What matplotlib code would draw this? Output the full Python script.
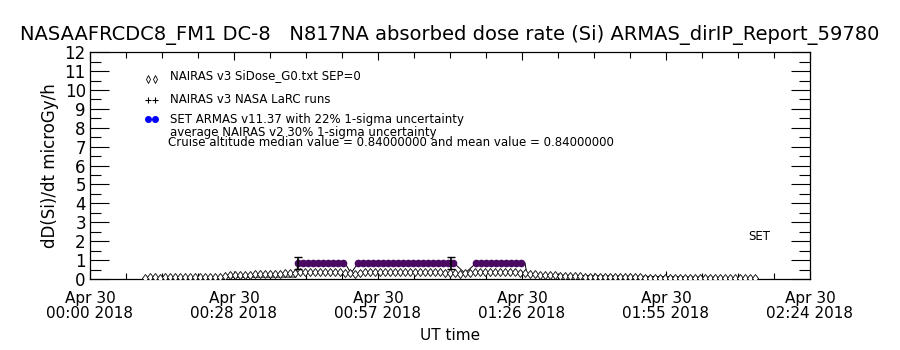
import numpy as np
import matplotlib
matplotlib.use("Agg")
import matplotlib.pyplot as plt
from matplotlib.ticker import MultipleLocator, FixedLocator

# ---- data (minutes after 2018-04-30 00:00 UT) ----
nairas_t = np.arange(11, 134, 1.0)
nairas_v = [
    0.07, 0.08, 0.08, 0.07, 0.08, 0.08, 0.09, 0.08, 0.08, 0.09,
    0.09, 0.09, 0.10, 0.10, 0.11, 0.12, 0.16, 0.20, 0.22, 0.22,
    0.23, 0.23, 0.24, 0.24, 0.25, 0.26, 0.27, 0.28, 0.30, 0.31,
    0.34, 0.36, 0.36, 0.35, 0.36, 0.36, 0.35, 0.36, 0.36, 0.35,
    0.34, 0.30, 0.28, 0.34, 0.36, 0.36, 0.35, 0.36, 0.36, 0.35,
    0.36, 0.36, 0.35, 0.36, 0.36, 0.35, 0.36, 0.36, 0.35, 0.36,
    0.34, 0.32, 0.30, 0.28, 0.30, 0.33, 0.35, 0.36, 0.36, 0.35,
    0.36, 0.36, 0.35, 0.36, 0.35, 0.34, 0.30, 0.26, 0.24, 0.23,
    0.22, 0.22, 0.20, 0.18, 0.18, 0.17, 0.15, 0.13, 0.12, 0.11,
    0.10, 0.10, 0.09, 0.09, 0.09, 0.08, 0.08, 0.08, 0.08, 0.08,
    0.07, 0.07, 0.07, 0.07, 0.07, 0.07, 0.07, 0.07, 0.07, 0.07,
    0.07, 0.07, 0.07, 0.07, 0.07, 0.07, 0.06, 0.06, 0.06, 0.06,
    0.06, 0.06, 0.06,
]

set_t = np.concatenate([
    np.arange(41.6, 51.2, 1.0),
    np.arange(53.6, 73.2, 1.0),
    np.arange(77.2, 87.2, 1.0),
])
set_v = [0.84] * len(set_t)

# thin trace of the SET record, including the low parts between segments
trace_t = [11, 41.2, 41.6, 51.0, 52.2, 53.6, 72.8, 75.0, 77.2, 87.0, 87.4, 133]
trace_v = [0.08, 0.10, 0.84, 0.84, 0.30, 0.84, 0.84, 0.30, 0.84, 0.84, 0.22, 0.06]

err_t = [41.6, 72.2]
err_v = [0.84, 0.84]
err_e = [0.30, 0.30]

xtick_min = [0, 28.8, 57.6, 86.4, 115.2, 144]
xtick_lab = ["Apr 30\n00:00 2018", "Apr 30\n00:28 2018", "Apr 30\n00:57 2018",
             "Apr 30\n01:26 2018", "Apr 30\n01:55 2018", "Apr 30\n02:24 2018"]

legend_lab = [
    "NAIRAS v3 SiDose_G0.txt SEP=0",
    "NAIRAS v3 NASA LaRC runs",
    "SET ARMAS v11.37 with 22% 1-sigma uncertainty",
    "average NAIRAS v2 30% 1-sigma uncertainty",
    "Cruise altitude median value = 0.84000000 and mean value = 0.84000000",
]

purple = "#4b0a62"

fig = plt.figure(figsize=(9, 3.5), dpi=100)
ax = fig.add_axes([0.1, 0.203, 0.8, 0.648])

ax.plot(trace_t, trace_v, color="k", lw=0.7, zorder=2)
ax.plot(nairas_t, nairas_v, ls="none", marker="d", ms=4.5, mfc="white",
        mec="k", mew=0.6, zorder=3)
ax.plot(set_t, set_v, ls="none", marker="o", ms=4.5, color=purple, zorder=4)
ax.errorbar(err_t, err_v, yerr=err_e, fmt="none", ecolor="k", elinewidth=1.2,
            capsize=3, zorder=5)

ax.set_xlim(0, 144)
ax.set_ylim(0, 12)
ax.xaxis.set_major_locator(FixedLocator(xtick_min))
ax.xaxis.set_minor_locator(MultipleLocator(7.2))
ax.set_xticklabels(xtick_lab, fontsize=11, linespacing=0.95)
ax.yaxis.set_major_locator(MultipleLocator(1))
ax.yaxis.set_minor_locator(MultipleLocator(0.5))
ax.tick_params(axis="y", which="major", direction="in", length=14, width=0.8,
               labelsize=12, right=True, pad=3)
ax.tick_params(axis="y", which="minor", direction="in", length=8, width=0.8,
               right=True)
ax.tick_params(axis="x", which="major", direction="in", length=6, width=0.8,
               top=True, pad=9)
ax.tick_params(axis="x", which="minor", direction="in", length=4, width=0.8,
               top=True)
for s in ax.spines.values():
    s.set_linewidth(0.9)

ax.set_xlabel("UT time", fontsize=11, labelpad=5)
ax.set_ylabel("dD(Si)/dt microGy/h", fontsize=12, labelpad=4)
fig.text(0.5, 0.9, "NASAAFRCDC8_FM1 DC-8   N817NA absorbed dose rate (Si) "
         "ARMAS_dirIP_Report_59780", ha="center", va="center", fontsize=14)

# legend drawn by hand
tr = ax.transAxes
ax.plot([0.08, 0.09], [0.88, 0.88], ls="none", marker="d", ms=4, mfc="white",
        mec="k", mew=0.6, transform=tr, clip_on=False)
ax.plot([0.08, 0.09], [0.79, 0.79], ls="none", marker="+", ms=5, color="k",
        mew=0.8, transform=tr, clip_on=False)
ax.plot([0.08, 0.09], [0.705, 0.705], ls="none", marker="o", ms=4, color="blue",
        transform=tr, clip_on=False)
ys = [0.895, 0.79, 0.705, 0.645, 0.603]
xs = [0.111, 0.111, 0.111, 0.111, 0.108]
for x, y, t in zip(xs, ys, legend_lab):
    ax.text(x, y, t, transform=tr, fontsize=8.5, va="center", ha="left")
ax.text(0.914, 0.185, "SET", transform=tr, fontsize=8.5, va="center")

fig.savefig("out.png", dpi=100)
